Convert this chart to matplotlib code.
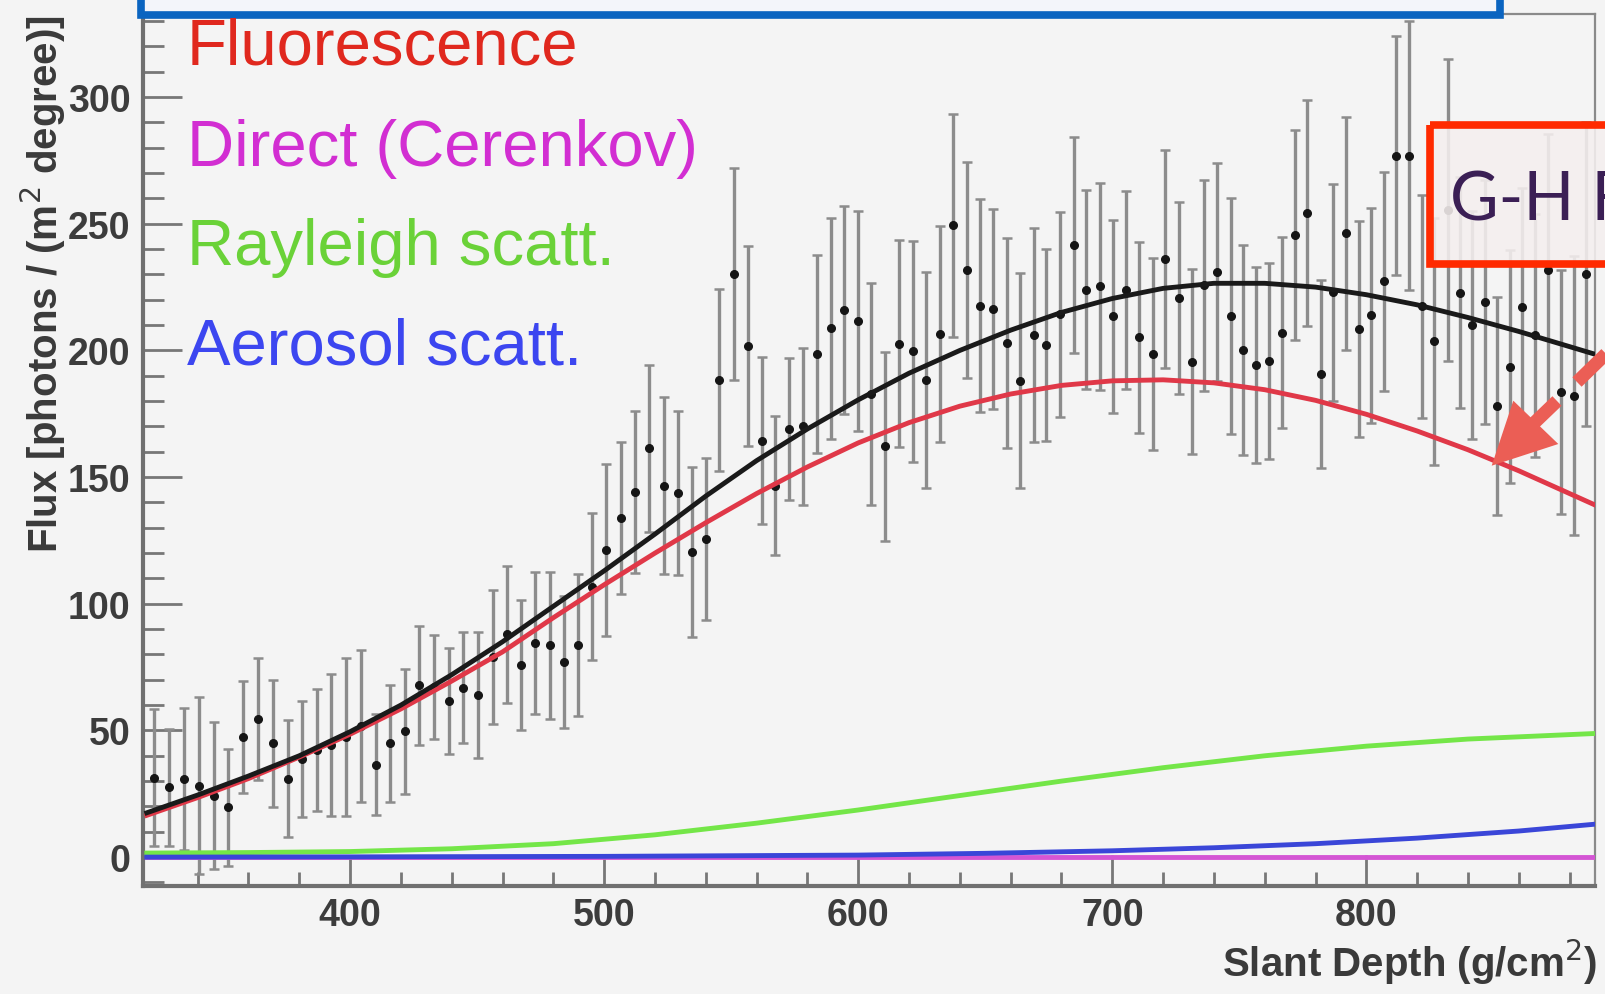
import numpy as np
import matplotlib.pyplot as plt
from matplotlib.patches import Rectangle, Polygon

plt.rcParams['font.family'] = ['Liberation Sans', 'DejaVu Sans']

# measured points (slant depth, flux, symmetric error)
depth = [322.7, 328.8, 334.5, 340.5, 346.3, 352.0, 358.0, 363.8, 369.5, 375.4,
         381.0, 386.8, 392.5, 398.5, 404.3, 410.1, 415.8, 421.6, 427.3, 433.1,
         438.8, 444.4, 450.3, 456.1, 461.7, 467.3, 472.8, 478.7, 484.2, 489.8,
         495.3, 500.9, 506.5, 512.0, 517.6, 523.4, 529.0, 534.5, 540.1, 545.4,
         551.0, 556.5, 562.0, 567.3, 572.8, 578.4, 583.6, 589.1, 594.4, 599.9,
         605.1, 610.7, 616.0, 621.6, 626.8, 632.3, 637.5, 642.7, 648.0, 652.9,
         658.7, 663.7, 669.1, 674.1, 679.3, 684.8, 689.8, 695.0, 700.3, 705.5,
         710.7, 715.9, 720.9, 726.2, 731.4, 736.2, 741.4, 746.7, 751.5, 756.7,
         761.7, 766.9, 771.9, 776.7, 782.0, 786.8, 791.8, 797.0, 802.0, 806.8,
         811.6, 816.9, 821.8, 826.8, 832.0, 836.9, 841.7, 846.7, 851.6, 856.5,
         861.3, 866.3, 871.5, 876.5, 881.7, 886.5]
flux = [31.4, 27.5, 31.0, 28.2, 24.2, 19.6, 47.5, 54.5, 44.9, 31.0,
        38.7, 42.2, 44.2, 47.4, 51.7, 36.5, 44.9, 49.6, 67.9, 67.0,
        61.7, 66.9, 64.0, 79.0, 88.0, 75.8, 84.5, 83.7, 77.1, 83.7,
        106.8, 121.3, 133.7, 144.2, 161.3, 146.6, 143.7, 120.5, 125.7, 188.3,
        230.2, 201.6, 164.3, 146.6, 169.0, 170.0, 198.6, 208.7, 216.0, 211.7,
        182.8, 162.1, 202.7, 199.6, 188.3, 206.5, 249.5, 231.8, 217.6, 216.3,
        202.9, 188.0, 206.1, 202.1, 214.2, 241.6, 223.9, 225.3, 213.4, 223.9,
        205.2, 198.6, 236.1, 220.6, 195.5, 225.7, 231.0, 213.7, 200.2, 194.2,
        195.9, 206.9, 245.6, 254.4, 190.7, 222.9, 246.3, 208.3, 213.9, 227.3,
        276.9, 276.9, 217.5, 203.6, 255.3, 222.8, 210.1, 219.1, 178.0, 193.5,
        217.1, 206.0, 231.6, 183.6, 182.2, 230.2]
flux_err = [27, 23, 28, 35, 29, 23, 22, 24, 25, 23,
            23, 24, 28, 31, 30, 20, 23, 24.5, 23.5, 20.5,
            21, 22, 25, 26.5, 27, 25.5, 28, 29, 26, 28,
            29, 34, 30, 32, 33, 35, 32.5, 33.5, 32, 36,
            42, 39.5, 33, 27.5, 28, 31, 39, 43.5, 41, 43.5,
            43.7, 37.2, 41, 43.5, 42.5, 42.6, 44, 42.6, 42, 39.5,
            41.3, 42.4, 42.2, 37.8, 40.3, 42.5, 39.3, 40.8, 37.9, 39,
            37.7, 38, 43, 37.8, 36.5, 41.7, 43, 46.6, 41.6, 38.8,
            38.7, 37.7, 41.6, 44.6, 37, 42.7, 46, 42.6, 42.5, 43.3,
            47.2, 53, 44, 48.8, 59.6, 45.5, 45, 48, 43, 46,
            47, 48, 54, 48, 55, 60]

# fitted curves
curve_x = [320, 340, 360, 380, 400, 420, 440, 460, 480, 500,
           520, 540, 560, 580, 600, 620, 640, 660, 680, 700,
           720, 740, 760, 780, 800, 820, 840, 860, 880, 890]
total_fit = [17.5, 24.5, 32, 40, 49.5, 60, 72, 85, 99, 113,
             127.5, 142.5, 156.5, 169, 180.5, 191, 200, 208, 215, 220.5,
             224.5, 226.5, 226.5, 225, 222, 218, 213, 207.5, 201.5, 198.5]
fluor = [16.5, 23.5, 31, 39.5, 48.5, 58.5, 69.5, 81, 94.5, 107.5,
         120, 132, 143.5, 154, 163.5, 171.5, 178, 182.8, 186.2, 188,
         188.4, 187.2, 184.5, 180.3, 174.8, 168.2, 160.8, 152.5, 143.5, 139]
rayl_x = [320, 360, 400, 440, 480, 520, 560, 600, 640, 680, 720, 760, 800, 840, 890]
rayleigh = [1.6, 1.8, 2.2, 3.3, 5.3, 8.8, 13.4, 18.6, 24.3, 30, 35.3, 40, 43.8, 46.6, 48.8]
aer_x = [320, 400, 500, 600, 650, 700, 740, 780, 820, 860, 890]
aerosol = [0.0, 0.1, 0.3, 0.8, 1.5, 2.5, 3.7, 5.3, 7.5, 10.3, 13]
direct_x = [320, 890]
direct = [0.0, 0.0]

fig = plt.figure(figsize=(16.05, 9.95), dpi=100, facecolor='#f4f4f4')
ax = fig.add_axes([143 / 1605, 1 - 887 / 995, 1452 / 1605, 872 / 995])
ax.set_facecolor('#f4f4f4')

ax.errorbar(depth, flux, yerr=flux_err, fmt='o', ms=5.5, color='#151515',
            ecolor='#8c8c8c', elinewidth=2.4, capsize=3.5, capthick=1.8, zorder=2)
ax.plot(direct_x, direct, color='#d455d4', lw=3.5, zorder=3)
ax.plot(rayl_x, rayleigh, color='#74e648', lw=3.5, zorder=3)
ax.plot(aer_x, aerosol, color='#3a46d8', lw=3.5, zorder=3)
ax.plot(curve_x, fluor, color='#e03848', lw=3.5, zorder=4)
ax.plot(curve_x, total_fit, color='#1a1a1a', lw=3.5, zorder=5)

ax.set_xlim(318.5, 890)
ax.set_ylim(-11.4, 332.8)
ax.set_xticks([400, 500, 600, 700, 800])
ax.set_xticks(np.arange(340, 890, 20), minor=True)
ax.set_yticks([0, 50, 100, 150, 200, 250, 300])
ax.set_yticks(np.arange(-10, 331, 10), minor=True)

ax.tick_params(axis='y', which='major', direction='in', length=28, width=2,
               color='#777777', labelsize=27, pad=9, labelcolor='#3c3c3c')
ax.tick_params(axis='y', which='minor', direction='in', length=15, width=2,
               color='#777777')
ax.tick_params(axis='x', which='major', direction='in', length=22, width=2,
               color='#777777', labelsize=27, pad=8, labelcolor='#3c3c3c')
ax.tick_params(axis='x', which='minor', direction='in', length=10, width=2,
               color='#777777')
for lab in ax.get_xticklabels() + ax.get_yticklabels():
    lab.set_fontweight('bold')

for side in ['left', 'bottom']:
    ax.spines[side].set_linewidth(3)
    ax.spines[side].set_color('#707070')
for side in ['top', 'right']:
    ax.spines[side].set_linewidth(1.6)
    ax.spines[side].set_color('#8a8a8a')

fig.text(0.027, 1 - 284 / 995, 'Flux [photons / (m$^2$ degree)]', rotation=90,
         ha='center', va='center', fontsize=29, fontweight='bold', color='#3a3a3a')
fig.text(1597 / 1605, 1 - 962 / 995, 'Slant Depth (g/cm$^2$)', ha='right',
         va='center', fontsize=29, fontweight='bold', color='#3a3a3a')

# legend-like labels
legend_labels = ['Fluorescence', 'Direct (Cerenkov)', 'Rayleigh scatt.', 'Aerosol scatt.']
legend_colors = ['#e0281e', '#d22ed2', '#6ad238', '#3c46f0']
legend_base = [65, 166, 265, 365]
for lab, col, yb in zip(legend_labels, legend_colors, legend_base):
    fig.text(187 / 1605, 1 - yb / 995, lab, ha='left', va='baseline',
             fontsize=47, color=col)

# slide annotations on top, in pixel coordinates
ov = fig.add_axes([0, 0, 1, 1])
ov.set_xlim(0, 1605)
ov.set_ylim(995, 0)
ov.axis('off')
ov.patch.set_alpha(0)

ov.add_patch(Rectangle((141, -30), 1359, 46, facecolor='#f3f5fa',
                       edgecolor='#0a64c0', lw=5.5))
ov.add_patch(Rectangle((1430, 126), 300, 139, facecolor='#f5efef', alpha=0.88,
                       edgecolor='none'))
ov.add_patch(Rectangle((1430, 126), 300, 139, facecolor='none',
                       edgecolor='#ff2a00', lw=5.5))
ov.text(1450, 220, 'G-H Fit', fontsize=48, color='#3b1f55',
        family=['Lato', 'DejaVu Sans'], ha='left', va='baseline')

arrow_col = '#eb5e55'
ov.add_patch(Polygon([(1491.7, 466.7), (1513.3, 401.7), (1558.3, 445.0)],
                     closed=True, facecolor=arrow_col, edgecolor='none'))
ov.plot([1532, 1557], [426, 402], color=arrow_col, lw=9.5, solid_capstyle='butt')
ov.plot([1577, 1612], [383, 349], color=arrow_col, lw=9.5, solid_capstyle='butt')

fig.savefig('out.png', dpi=100, facecolor=fig.get_facecolor())
